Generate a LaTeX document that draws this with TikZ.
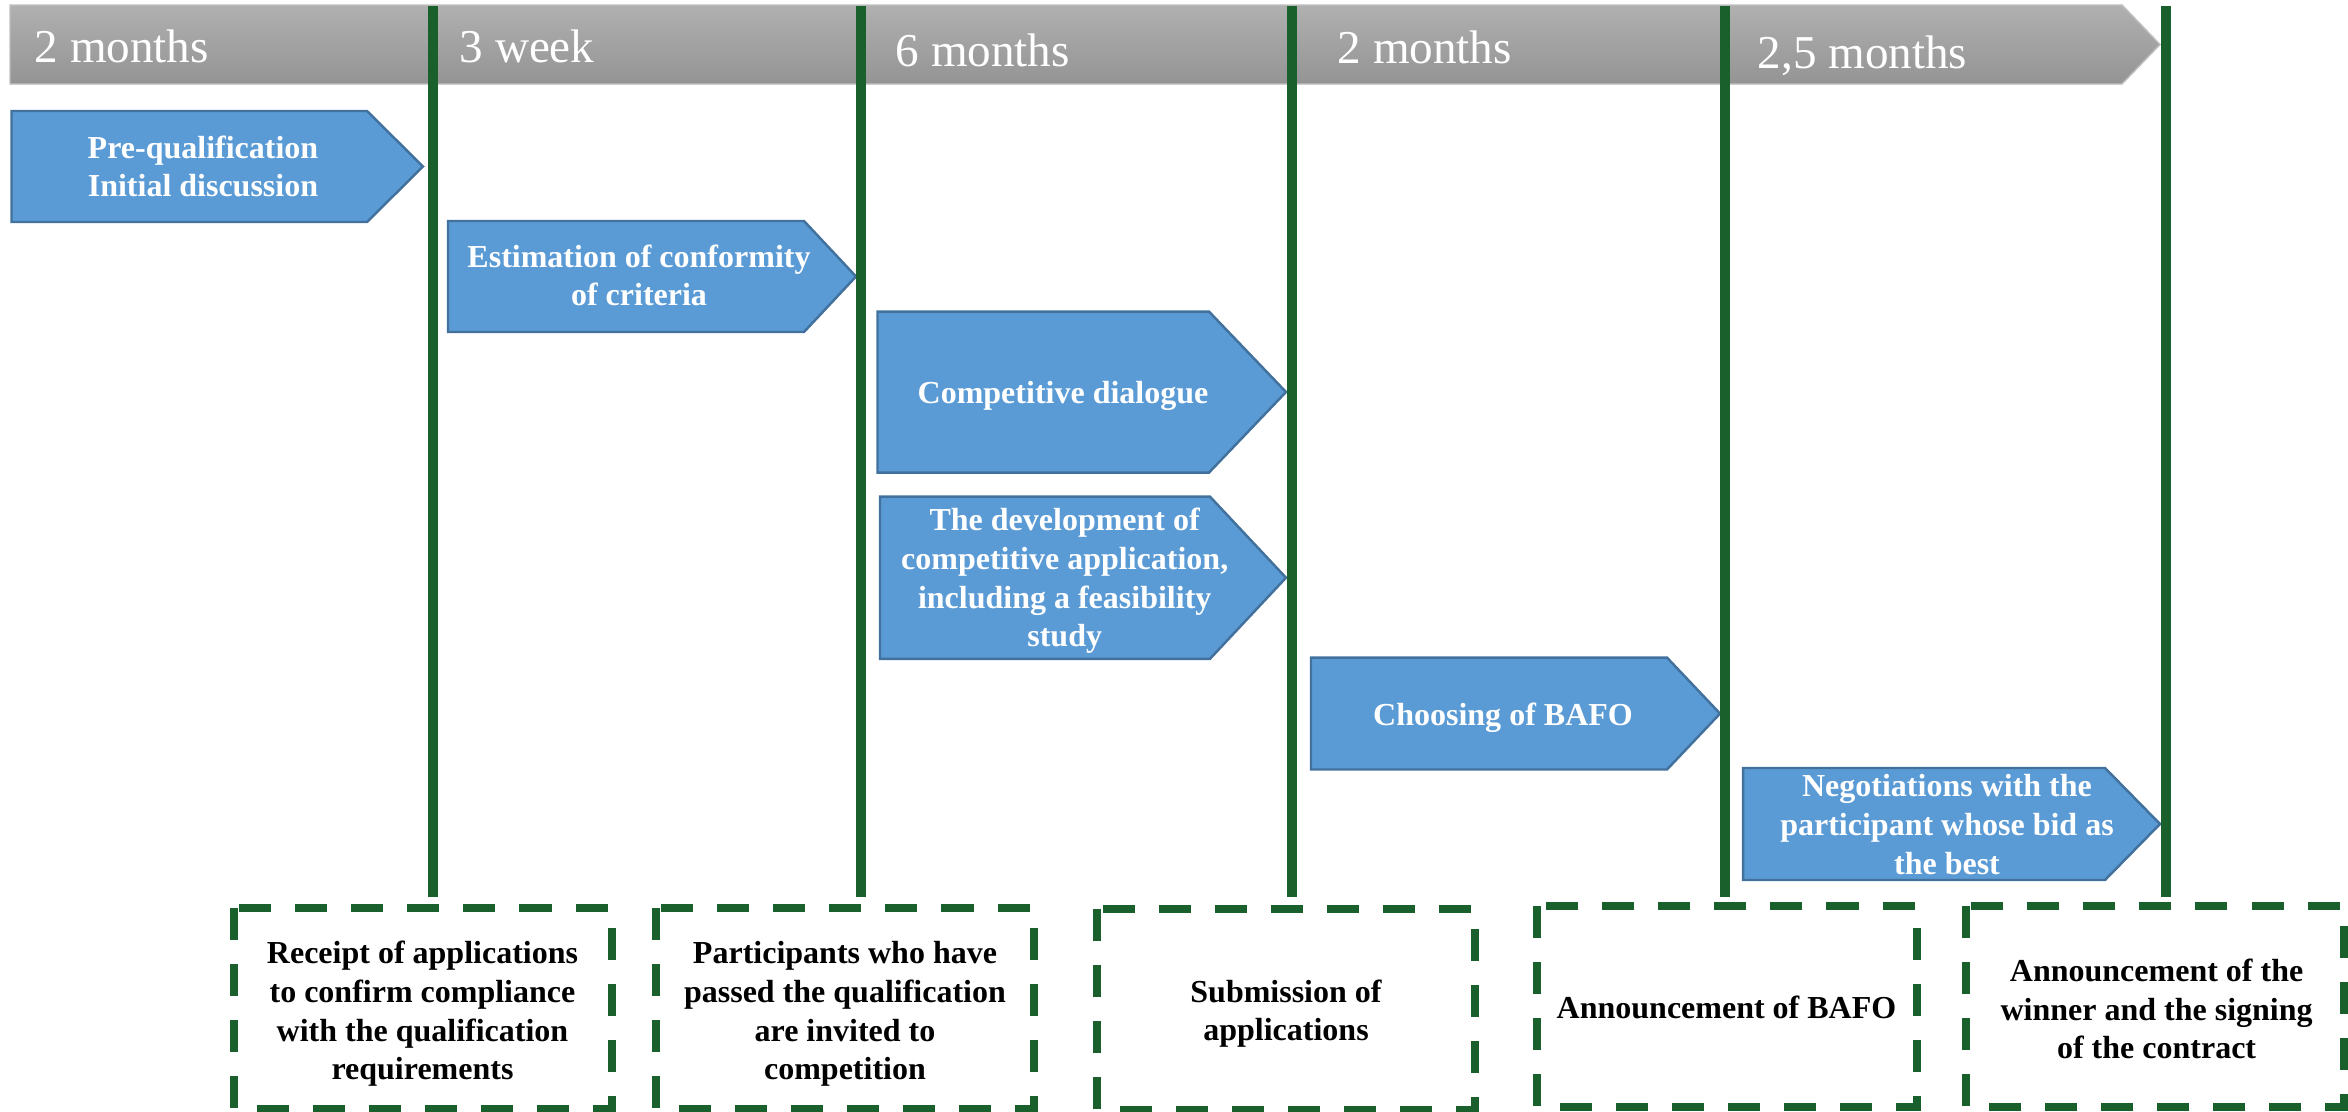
\documentclass[tikz,border=0pt]{standalone}
\usepackage{fontspec}
\setmainfont{Liberation Serif}
\definecolor{barblue}{RGB}{91,155,213}
\definecolor{barblueedge}{RGB}{65,113,156}
\definecolor{mygreen}{RGB}{25,96,45}
\definecolor{graytop}{RGB}{176,176,176}
\definecolor{graybot}{RGB}{148,148,148}
\definecolor{grayedge}{RGB}{190,190,190}
\begin{document}
\begin{tikzpicture}[x=0.01cm,y=-0.01cm,
  arrowbox/.style={fill=barblue,draw=barblueedge,line width=0.7pt},
  arrowtext/.style={text=white,font=\fontsize{9.1}{11}\selectfont\bfseries,align=center,inner sep=0pt},
  headtext/.style={text=white,font=\fontsize{13.4}{16}\selectfont,anchor=base west,inner sep=0pt},
  milestone/.style={draw=mygreen,line width=3.1pt},
  dashbox/.style={draw=mygreen,line width=2.3pt,dash pattern=on 0.32cm off 0.24cm},
  dtext/.style={text=black,font=\fontsize{9.1}{11}\selectfont\bfseries,align=center,inner sep=0pt}]

\useasboundingbox (0,0) rectangle (2348,1112);

% grey time bar
\shade[top color=graytop,bottom color=graybot,draw=grayedge,line width=0.4pt]
  (10,5) -- (2122,5) -- (2160,44.5) -- (2122,84) -- (10,84) -- cycle;

\node[headtext] (h1) at (34,62) {2 months};
\node[headtext] (h2) at (459,62) {3 week};
\node[headtext] (h3) at (895,66.7) {6 months};
\node[headtext] (h4) at (1337,63) {2 months};
\node[headtext] (h5) at (1757,68) {2,5 months};

% blue stage arrows
\filldraw[arrowbox] (11.5,111) -- (367,111) -- (423,166.5) -- (367,222) -- (11.5,222) -- cycle;
\filldraw[arrowbox] (448,221) -- (804,221) -- (856,276.5) -- (804,332) -- (448,332) -- cycle;
\filldraw[arrowbox] (877.5,311.6) -- (1209,311.6) -- (1286,392) -- (1209,472.6) -- (877.5,472.6) -- cycle;
\filldraw[arrowbox] (880,496.7) -- (1210,496.7) -- (1286,577.7) -- (1210,658.8) -- (880,658.8) -- cycle;
\filldraw[arrowbox] (1311,657.6) -- (1667,657.6) -- (1720,713.6) -- (1667,769.5) -- (1311,769.5) -- cycle;
\filldraw[arrowbox] (1743,768) -- (2105,768) -- (2160,824) -- (2105,880) -- (1743,880) -- cycle;

\node[arrowtext] (a1) at (203,166.5) {Pre-qualification\\Initial discussion};
\node[arrowtext] (a2) at (639,275.5) {Estimation of conformity\\of criteria};
\node[arrowtext,anchor=base] (a3) at (1063,403) {Competitive dialogue};
\node[arrowtext] (a4) at (1064.7,581) {The development of\\competitive application,\\including a feasibility\\study};
\node[arrowtext,anchor=base] (a5) at (1503,725) {Choosing of BAFO};
\node[arrowtext] (a6) at (1947,824.5) {Negotiations with the\\participant whose bid as\\the best};

% green milestone lines
\draw[milestone] (433,6) -- (433,897);
\draw[milestone] (861,6) -- (861,897);
\draw[milestone] (1292,6) -- (1292,897);
\draw[milestone] (1725,6) -- (1725,897);
\draw[milestone] (2166,6) -- (2166,897);

% dashed milestone boxes
\draw[dashbox] (234,908) rectangle (612,1109);
\draw[dashbox] (656,908) rectangle (1034,1109);
\draw[dashbox] (1097,908.7) rectangle (1475,1110);
\draw[dashbox] (1537,906) rectangle (1917,1107);
\draw[dashbox] (1966,906) rectangle (2344,1107);

\node[dtext] (b1) at (422.5,1014) {Receipt of applications\\to confirm compliance\\with the qualification\\requirements};
\node[dtext] (b2) at (845,1014) {Participants who have\\passed the qualification\\are invited to\\competition};
\node[dtext] (b3) at (1286,1013.5) {Submission of\\applications};
\node[dtext,anchor=base] (b4) at (1726.5,1018) {Announcement of BAFO};
\node[dtext] (b5) at (2156.6,1009) {Announcement of the\\winner and the signing\\of the contract};
\end{tikzpicture}
\end{document}
